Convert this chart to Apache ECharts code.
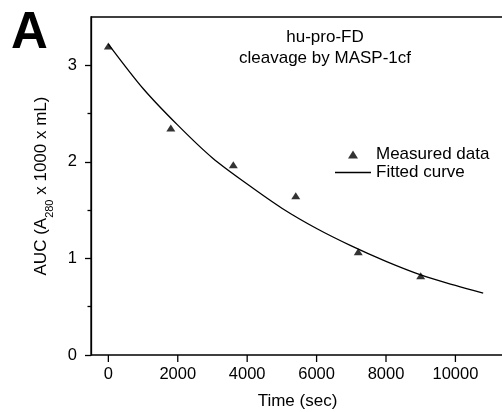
<!DOCTYPE html>
<html lang="en">
<head>
    <meta charset="UTF-8">
    <title>hu-pro-FD cleavage</title>
    <script src="https://cdn.jsdelivr.net/npm/echarts@6/dist/echarts.min.js"></script>
    <style>
        html, body { margin: 0; padding: 0; background: #fff; }
    </style>
</head>
<body>
<div id="main" style="width:502px; height:412px;"></div>
<script>
    // measured points
    var timePts = [0, 1800, 3600, 5400, 7200, 9000];
    var aucPts = [3.2, 2.35, 1.97, 1.65, 1.07, 0.82];
    // fitted curve
    var fitTime = [0, 1000, 2000, 3000, 4000, 5000, 6000, 7000, 8000, 9000, 10000, 10800];
    var fitAuc = [3.22, 2.76, 2.38, 2.04, 1.77, 1.52, 1.31, 1.13, 0.97, 0.83, 0.72, 0.64];
    // ticks
    var xTicks = [0, 2000, 4000, 6000, 8000, 10000];
    var yTicks = [0, 1, 2, 3];
    var yMinor = [0.5, 1.5, 2.5];

    var font = '"Liberation Sans", Arial, sans-serif';
    var myChart = echarts.init(document.getElementById('main'));

    var measured = [];
    for (var i = 0; i < timePts.length; i++) measured.push([timePts[i], aucPts[i]]);
    var fitted = [];
    for (var j = 0; j < fitTime.length; j++) fitted.push([fitTime[j], fitAuc[j]]);
    var tickData = [];
    for (var k = 0; k < xTicks.length; k++) tickData.push([xTicks[k], 0]);

    function black() { return { color: '#000', width: 1.3 }; }

    var option = {
        animation: false,
        textStyle: { fontFamily: font, color: '#000' },
        title: {
            text: 'hu-pro-FD\ncleavage by MASP-1cf',
            left: 320,
            top: 22,
            textAlign: 'center',
            textStyle: { fontFamily: font, fontSize: 17, fontWeight: 'normal', color: '#000', lineHeight: 21 }
        },
        graphic: [{
            type: 'text',
            left: 11,
            top: 8,
            style: { text: 'A', font: 'bold 51px ' + font, fill: '#000' }
        }],
        legend: {
            orient: 'vertical',
            left: 330,
            top: 141,
            itemWidth: 36,
            itemHeight: 8,
            itemGap: 1,
            textStyle: { fontFamily: font, fontSize: 17, color: '#000' },
            data: [
                { name: 'Measured data', icon: 'path://M5,0 L10,8 L0,8 Z' },
                { name: 'Fitted curve', icon: 'path://M0,0 L36,0 L36,1.3 L0,1.3 Z' }
            ]
        },
        // frame: left, bottom, top (right edge pushed off the canvas)
        grid: {
            left: 91, right: -2, top: 17, bottom: 57, outerBoundsMode: 'none',
            show: true, borderColor: '#000', borderWidth: 1.3, backgroundColor: 'transparent'
        },
        xAxis: [{
            type: 'value',
            min: -500,
            max: 11400,
            name: 'Time (sec)',
            nameLocation: 'middle',
            nameGap: 38,
            nameTextStyle: { fontFamily: font, fontSize: 17, color: '#000' },
            axisLine: { show: false, onZero: false },
            axisTick: { show: false },
            axisLabel: {
                show: true, customValues: xTicks.slice(), margin: 11, fontFamily: font, fontSize: 16.5, color: '#000',
                formatter: function (v) { return String(v); }
            },
            splitLine: { show: false }
        }],
        yAxis: [{
            type: 'value',
            min: 0,
            max: 3.5,
            name: '{a|AUC (A}{s|280}{a| x 1000 x mL)}',
            nameLocation: 'middle',
            nameGap: 36,
            nameRotate: 90,
            nameTextStyle: {
                rich: {
                    a: { fontFamily: font, fontSize: 17, color: '#000', lineHeight: 22, verticalAlign: 'top' },
                    s: { fontFamily: font, fontSize: 11, color: '#000', lineHeight: 22, verticalAlign: 'bottom' }
                }
            },
            axisLine: { show: true, onZero: false, lineStyle: black() },
            axisTick: { show: true, customValues: yTicks.slice(), length: 6, lineStyle: black() },
            axisLabel: { customValues: yTicks.slice(), margin: 14, fontFamily: font, fontSize: 16.5, color: '#000' },
            splitLine: { show: false }
        }, {
            type: 'value',
            position: 'left',
            min: 0,
            max: 3.5,
            axisLine: { show: false, onZero: false },
            axisTick: { show: true, customValues: yMinor.slice(), length: 3.5, lineStyle: black() },
            axisLabel: { show: false },
            splitLine: { show: false }
        }],
        series: [{
            name: 'Measured data',
            type: 'scatter',
            symbol: 'triangle',
            symbolSize: [9, 7],
            itemStyle: { color: '#000' },
            data: measured,
            z: 3
        }, {
            name: 'Fitted curve',
            type: 'line',
            smooth: 0.3,
            symbol: 'none',
            showSymbol: false,
            lineStyle: { color: '#000', width: 1.3 },
            itemStyle: { color: '#000' },
            data: fitted,
            z: 2
        }, {
            // bottom ticks, placed through the x scale
            name: 'xticks',
            type: 'custom',
            silent: true,
            clip: false,
            data: tickData,
            renderItem: function (params, api) {
                var p = api.coord([api.value(0), api.value(1)]);
                return {
                    type: 'line',
                    shape: { x1: p[0], y1: p[1], x2: p[0], y2: p[1] + 7 },
                    style: { stroke: '#000', lineWidth: 1.3 }
                };
            },
            z: 4
        }]
    };
    myChart.setOption(option);
</script>
</body>
</html>
